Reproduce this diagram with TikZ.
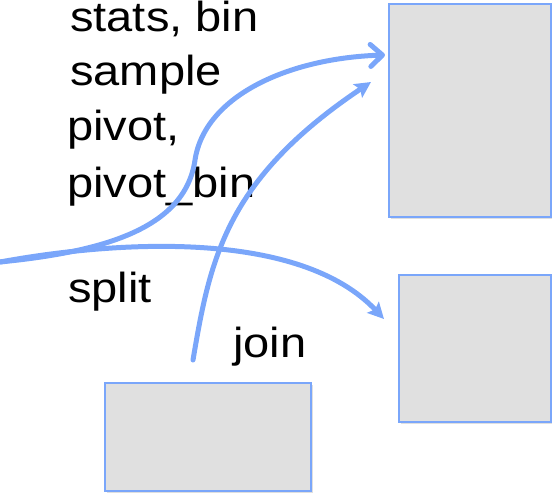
\documentclass[tikz,border=0pt]{standalone}
\usepackage{fontspec}
\setmainfont{Liberation Sans}
\usetikzlibrary{arrows.meta, positioning, shadows}
\definecolor{lineblue}{RGB}{122,166,250}
\definecolor{boxgray}{RGB}{224,224,224}

\begin{document}
\begin{tikzpicture}[x=1pt, y=-1pt,
    box/.style={draw=lineblue, line width=2.2pt, fill=boxgray, inner sep=0pt,
      drop shadow={opacity=0.25, shadow xshift=1.5pt, shadow yshift=-1.5pt}},
    lbl/.style={anchor=base west, inner sep=0pt, xscale=1.12,
      font=\fontsize{42}{48}\selectfont},
    flow/.style={draw=lineblue, line width=5pt, line cap=round}]
  \useasboundingbox (0,0) rectangle (552,495);

  % draws the boxes
  \node[box, minimum width=162pt, minimum height=213pt] (upper) at (470,110.5) {};
  \node[box, minimum width=152pt, minimum height=147pt] (lower) at (475,348.5) {};
  \node[box, minimum width=206pt, minimum height=108pt] (bottom) at (208,437) {};

  % draws the labels
  \node[lbl] (stats) at (70,32) {stats, bin};
  \node[lbl] (sample) at (70,85) {sample};
  \node[lbl] (pivot) at (67,140) {pivot,};
  \node[lbl] (pivotbin) at (67,197) {pivot\_bin};
  \node[lbl] (split) at (68,302) {split};
  \node[lbl] (join) at (233,357) {join};

  % draws the arrows
  \coordinate (in) at (0,262);
  \coordinate (joinstart) at (193,360);
  \coordinate (upperin) at (385,55);
  \coordinate (upperjoin) at (371,82);
  \coordinate (lowerin) at (384,319);
  \draw[flow, -{Straight Barb[round, length=12pt, width=22pt]}]
    (in) .. controls (100,252) and (185,230) .. (195,160)
         .. controls (205,95) and (290,58) .. (upperin);
  \draw[flow, -{Stealth[length=16pt, width=16pt, inset=3pt]}]
    (in) .. controls (120,240) and (300,230) .. (lowerin);
  \draw[flow, -{Stealth[length=16pt, width=16pt, inset=3pt]}]
    (joinstart) .. controls (210,260) and (225,180) .. (upperjoin);
\end{tikzpicture}
\end{document}
